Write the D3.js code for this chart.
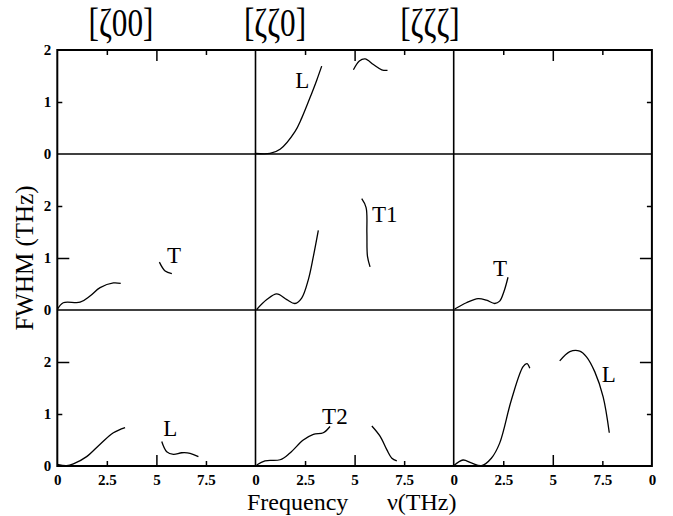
<!DOCTYPE html>
<html>
<head>
<meta charset="utf-8">
<script src="https://cdn.jsdelivr.net/npm/d3@7"></script>
<style>
  body { margin: 0; background: #fff; }
  text { font-family: "Liberation Serif", "Times New Roman", serif; fill: #000; }
</style>
</head>
<body>
<div id="chart"></div>
<script>
//column titles and tick labels
const columnTitles = ["[ζ00]", "[ζζ0]", "[ζζζ]"];
const xTickValues = [0, 2.5, 5, 7.5];
const yTickValues = [0, 1, 2];
const rowDomains = [[0, 2], [0, 3], [0, 3]];

//FWHM curves, [frequency, fwhm], one array per branch
const z00_T = [[0, 0.01], [0.3, 0.14], [1.15, 0.15], [1.65, 0.27], [2.16, 0.43], [2.83, 0.52], [3.2, 0.51]];
const z00_T_hi = [[5.15, 0.92], [5.44, 0.75], [5.78, 0.7]];
const z00_L = [[0, 0.03], [0.47, 0.006], [0.81, 0.04], [1.48, 0.18], [2.16, 0.42], [2.83, 0.64], [3.42, 0.74]];
const z00_L_hi = [[5.27, 0.47], [5.52, 0.275], [5.86, 0.225], [6.28, 0.255], [6.7, 0.245], [7.12, 0.18]];

const zz0_L = [[0, 0.01], [0.73, 0.01], [1.24, 0.09], [1.99, 0.43], [2.33, 0.69], [2.84, 1.17], [3.09, 1.42], [3.34, 1.69]];
const zz0_L_hi = [[4.94, 1.62], [5.24, 1.79], [5.53, 1.83], [5.95, 1.72], [6.37, 1.62], [6.66, 1.61]];
const zz0_T1 = [[0.06, 0.01], [0.57, 0.2], [1.07, 0.31], [1.58, 0.2], [1.99, 0.125], [2.33, 0.23], [2.67, 0.59], [2.92, 1.03], [3.17, 1.53]];
const zz0_T1_hi = [[5.36, 2.14], [5.58, 1.97], [5.62, 1.48], [5.65, 1.03], [5.78, 0.83]];
const zz0_T2 = [[0.06, 0.02], [0.48, 0.1], [1.24, 0.12], [1.74, 0.25], [2.41, 0.5], [2.92, 0.61], [3.42, 0.64], [3.76, 0.76]];
const zz0_T2_hi = [[5.87, 0.77], [6.29, 0.57], [6.63, 0.31], [6.88, 0.15], [7.13, 0.1]];

const zzz_T = [[0.05, 0.02], [0.64, 0.14], [1.23, 0.22], [1.65, 0.19], [2.07, 0.125], [2.32, 0.17], [2.54, 0.36], [2.74, 0.63]];
const zzz_L = [[0, 0.006], [0.47, 0.115], [0.89, 0.06], [1.4, 0.006], [1.9, 0.15], [2.32, 0.44], [2.91, 1.27], [3.5, 1.91], [3.7, 1.97], [3.84, 1.88]];
const zzz_L_hi = [[5.35, 2.02], [5.86, 2.2], [6.36, 2.21], [6.7, 2.1], [7.12, 1.81], [7.54, 1.33], [7.85, 0.64]];

//which panel each branch goes into
const curves = [
    { row: 1, col: 0, values: z00_T }, { row: 1, col: 0, values: z00_T_hi },
    { row: 2, col: 0, values: z00_L }, { row: 2, col: 0, values: z00_L_hi },
    { row: 0, col: 1, values: zz0_L }, { row: 0, col: 1, values: zz0_L_hi },
    { row: 1, col: 1, values: zz0_T1 }, { row: 1, col: 1, values: zz0_T1_hi },
    { row: 2, col: 1, values: zz0_T2 }, { row: 2, col: 1, values: zz0_T2_hi },
    { row: 1, col: 2, values: zzz_T },
    { row: 2, col: 2, values: zzz_L }, { row: 2, col: 2, values: zzz_L_hi }
];

//branch labels, in data units of their panel
const branchLabels = [
    { row: 0, col: 1, text: "L", x: 2.0, y: 1.27 },
    { row: 1, col: 0, text: "T", x: 5.54, y: 0.91 },
    { row: 1, col: 1, text: "T1", x: 5.88, y: 1.7 },
    { row: 1, col: 2, text: "T", x: 1.98, y: 0.66 },
    { row: 2, col: 0, text: "L", x: 5.34, y: 0.58 },
    { row: 2, col: 1, text: "T2", x: 3.36, y: 0.81 },
    { row: 2, col: 2, text: "L", x: 7.47, y: 1.62 }
];

//layout
const W = 673, H = 516;
const padL = 57.3, padT = 50, colW = 198.2, unit = 52;

const svg = d3.select("#chart")
    .append("svg")
    .attr("width", W)
    .attr("height", H);

//x scale per column
const xs = columnTitles.map((t, i) => d3.scaleLinear()
    .domain([0, 10])
    .range([padL + i * colW, padL + (i + 1) * colW]));

//y scale per row, stacked from the top
let rowTop = padT;
const ys = rowDomains.map(dom => {
    const h = (dom[1] - dom[0]) * unit;
    const s = d3.scaleLinear().domain(dom).range([rowTop + h, rowTop]);
    rowTop += h;
    return s;
});
const padB = rowTop;
const padR = padL + 3 * colW;

//tick marks only (no labels)
function tickMarks(axis, tx, ty) {
    svg.append("g")
        .attr("transform", `translate(${tx},${ty})`)
        .call(axis)
        .call(g => g.select(".domain").remove())
        .call(g => g.selectAll("text").remove())
        .selectAll("line").attr("stroke-width", 1.5);
}

//ticks on top and bottom border
xs.forEach((x, i) => {
    [[[5], 11], [[2.5, 7.5], 5]].forEach(([vals, len]) => {
        tickMarks(d3.axisTop(x).tickValues(vals).tickSize(-len), 0, padT);
        tickMarks(d3.axisBottom(x).tickValues(vals).tickSize(-len), 0, padB);
    });
    //bottom tick labels
    const lab = svg.append("g")
        .attr("transform", `translate(0,${padB})`)
        .call(d3.axisBottom(x).tickValues(i === 2 ? xTickValues.concat([10]) : xTickValues)
            .tickSize(0).tickPadding(8).tickFormat(d => d === 10 ? "0" : d3.format("")(d)));
    lab.select(".domain").remove();
    lab.selectAll("text")
        .style("font-family", "'Liberation Serif', serif")
        .style("font-size", "15px")
        .style("font-weight", "bold");
});

//left / right ticks per row
const rowMajor = [[], [1], [2]];
const rowMinor = [[1], [2], [1]];
ys.forEach((y, r) => {
    [[rowMajor[r], 12], [rowMinor[r], 5]].forEach(([vals, len]) => {
        if (!vals.length) return;
        tickMarks(d3.axisLeft(y).tickValues(vals).tickSize(-len), padL, 0);
        tickMarks(d3.axisRight(y).tickValues(vals).tickSize(-len), padR, 0);
    });
    const lab = svg.append("g")
        .attr("transform", `translate(${padL},0)`)
        .call(d3.axisLeft(y).tickValues(yTickValues)
            .tickSize(0).tickPadding(6).tickFormat(d3.format("d")));
    lab.select(".domain").remove();
    lab.selectAll("text")
        .style("font-family", "'Liberation Serif', serif")
        .style("font-size", "15px")
        .style("font-weight", "bold");
});

//frame and panel dividers
svg.append("rect")
    .attr("x", padL).attr("y", padT)
    .attr("width", padR - padL).attr("height", padB - padT)
    .attr("fill", "none").attr("stroke", "black").attr("stroke-width", 2);

ys.slice(0, 2).forEach(y => {
    svg.append("line")
        .attr("x1", padL).attr("x2", padR)
        .attr("y1", y(0)).attr("y2", y(0))
        .attr("stroke", "black").attr("stroke-width", 1.6);
});
xs.slice(1).forEach(x => {
    svg.append("line")
        .attr("x1", x(0)).attr("x2", x(0))
        .attr("y1", padT).attr("y2", padB)
        .attr("stroke", "black").attr("stroke-width", 1.6);
});

//curves
curves.forEach(c => {
    const line = d3.line()
        .x(d => xs[c.col](d[0]))
        .y(d => ys[c.row](d[1]))
        .curve(d3.curveCatmullRom);
    svg.append("path")
        .datum(c.values)
        .attr("d", line)
        .attr("fill", "none")
        .attr("stroke", "black")
        .attr("stroke-width", 1.3);
});

//branch labels
svg.selectAll(".branch")
    .data(branchLabels)
    .enter().append("text")
    .attr("class", "branch")
    .attr("x", d => xs[d.col](d.x))
    .attr("y", d => ys[d.row](d.y))
    .style("font-size", "23px")
    .text(d => d.text);

//column titles
const titleX = [121, 275, 430];
columnTitles.forEach((t, i) => {
    svg.append("text")
        .attr("transform", `translate(${titleX[i]},36) scale(0.78,1)`)
        .attr("text-anchor", "middle")
        .style("font-size", "40px")
        .text(t);
});

//axis titles
svg.append("text")
    .attr("transform", "translate(33,258) rotate(-90)")
    .attr("text-anchor", "middle")
    .style("font-size", "25px")
    .text("FWHM  (THz)");

svg.append("text")
    .attr("x", 247).attr("y", 510)
    .style("font-size", "24px")
    .text("Frequency");

svg.append("text")
    .attr("x", 387).attr("y", 510)
    .style("font-size", "24px")
    .text("ν(THz)");
</script>
</body>
</html>
